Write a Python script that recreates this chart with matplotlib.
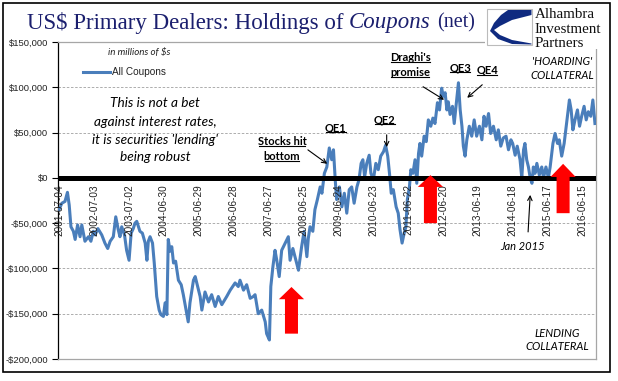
import matplotlib
matplotlib.use("Agg")
import matplotlib.pyplot as plt
import pandas as pd
from matplotlib.patches import Polygon, Rectangle
from matplotlib.lines import Line2D
from matplotlib.transforms import IdentityTransform

# ---------------- data ----------------
years = [
    2001.50, 2001.58, 2001.67, 2001.74, 2001.79, 2001.84, 2001.91, 2001.96, 2002.03, 2002.10,
    2002.15, 2002.24, 2002.34, 2002.41, 2002.48, 2002.53, 2002.61, 2002.72, 2002.81, 2002.89,
    2002.96, 2003.05, 2003.12, 2003.19, 2003.24, 2003.29, 2003.37, 2003.43, 2003.50, 2003.56,
    2003.62, 2003.67, 2003.72, 2003.81, 2003.88, 2003.96, 2004.01, 2004.05, 2004.10, 2004.17,
    2004.22, 2004.29, 2004.36, 2004.41, 2004.48, 2004.53, 2004.58, 2004.62, 2004.67, 2004.72,
    2004.77, 2004.83, 2004.91, 2004.99, 2005.05, 2005.15, 2005.19, 2005.24, 2005.34, 2005.39,
    2005.53, 2005.58, 2005.67, 2005.77, 2005.86, 2005.96, 2006.05, 2006.15, 2006.29, 2006.39,
    2006.53, 2006.62, 2006.67, 2006.77, 2006.86, 2006.96, 2007.05, 2007.10, 2007.19, 2007.29,
    2007.39, 2007.43, 2007.51, 2007.55, 2007.61, 2007.67, 2007.72, 2007.79, 2007.86, 2007.96,
    2008.05, 2008.10, 2008.18, 2008.24, 2008.34, 2008.43, 2008.50, 2008.58, 2008.62, 2008.67,
    2008.75, 2008.81, 2008.88, 2008.96, 2009.01, 2009.08, 2009.15, 2009.22, 2009.29, 2009.34,
    2009.39, 2009.43, 2009.51, 2009.58, 2009.65, 2009.72, 2009.79, 2009.86, 2009.93, 2010.01,
    2010.07, 2010.13, 2010.18, 2010.23, 2010.29, 2010.36, 2010.41, 2010.48, 2010.55, 2010.62,
    2010.69, 2010.77, 2010.83, 2010.89, 2010.94, 2010.99, 2011.05, 2011.13, 2011.19, 2011.24,
    2011.30, 2011.36, 2011.41, 2011.45, 2011.51, 2011.55, 2011.61, 2011.67, 2011.72, 2011.77,
    2011.81, 2011.86, 2011.93, 2011.99, 2012.05, 2012.12, 2012.18, 2012.24, 2012.31, 2012.37,
    2012.43, 2012.48, 2012.53, 2012.58, 2012.62, 2012.67, 2012.74, 2012.79, 2012.86, 2012.91,
    2012.96, 2013.01, 2013.05, 2013.10, 2013.15, 2013.22, 2013.29, 2013.36, 2013.43, 2013.51,
    2013.58, 2013.64, 2013.70, 2013.77, 2013.83, 2013.91, 2013.99, 2014.05, 2014.12, 2014.19,
    2014.27, 2014.34, 2014.41, 2014.46, 2014.53, 2014.59, 2014.67, 2014.72, 2014.77, 2014.81,
    2014.86, 2014.91, 2014.96, 2015.01, 2015.05, 2015.10, 2015.15, 2015.22, 2015.29, 2015.34,
    2015.41, 2015.48, 2015.53, 2015.61, 2015.67, 2015.74, 2015.79, 2015.86, 2015.93, 2016.01,
    2016.08, 2016.13, 2016.18, 2016.24, 2016.31, 2016.37, 2016.43, 2016.50, 2016.56, 2016.62,
    2016.69, 2016.75, 2016.81,
]
all_coupons = [
    -35000, -28000, -26000, -16000, -30000, -54000, -59000, -68000, -52000, -65000,
    -52000, -70000, -65000, -70000, -59000, -63000, -56000, -63000, -72000, -78000,
    -70000, -65000, -43000, -57000, -65000, -54000, -63000, -80000, -91000, -61000,
    -56000, -50000, -48000, -59000, -61000, -72000, -91000, -70000, -65000, -72000,
    -94000, -131000, -146000, -151000, -153000, -138000, -151000, -68000, -81000, -76000,
    -94000, -92000, -113000, -118000, -129000, -150000, -159000, -138000, -113000, -109000,
    -131000, -146000, -126000, -137000, -129000, -142000, -131000, -140000, -131000, -124000,
    -116000, -120000, -113000, -124000, -118000, -133000, -131000, -129000, -150000, -146000,
    -159000, -172000, -179000, -120000, -98000, -80000, -91000, -109000, -80000, -72000,
    -65000, -91000, -78000, -87000, -102000, -76000, -59000, -87000, -67000, -54000,
    -59000, -35000, -24000, -10000, -17000, 5000, 12000, 33000, 20000, 31000,
    -2000, -24000, -10000, -32000, -17000, -39000, -13000, -10000, -28000, -10000,
    -2000, 16000, 20000, 1000, 16000, 25000, 5000, -2000, 16000, 9000,
    24000, 29000, 36000, 24000, 5000, -17000, -13000, -32000, -39000, -57000,
    -72000, -61000, -54000, -24000, -10000, 9000, 5000, 20000, -6000, 27000,
    38000, 24000, 46000, 40000, 64000, 57000, 66000, 60000, 83000, 75000,
    99000, 90000, 94000, 75000, 84000, 70000, 79000, 60000, 86000, 105000,
    75000, 57000, 35000, 24000, 42000, 57000, 46000, 64000, 46000, 57000,
    42000, 68000, 57000, 71000, 49000, 57000, 42000, 53000, 35000, 44000,
    46000, 31000, 42000, 38000, 25000, 35000, 20000, 0, 31000, 38000,
    20000, 12000, 0, -6000, 12000, 5000, 16000, 3000, 12000, 0,
    12000, 0, 12000, 38000, 49000, 38000, 42000, 24000, 38000, 64000,
    86000, 75000, 53000, 64000, 75000, 57000, 68000, 79000, 64000, 73000,
    68000, 86000, 60000,
]
x_tick_labels = ['2001-07-04', '2002-07-03', '2003-07-02', '2004-06-30', '2005-06-29',
                 '2006-06-28', '2007-06-27', '2008-06-25', '2009-06-24', '2010-06-23',
                 '2011-06-22', '2012-06-20', '2013-06-19', '2014-06-18', '2015-06-17',
                 '2016-06-15']
y_ticks = [-200000, -150000, -100000, -50000, 0, 50000, 100000, 150000]


def dec_year(s):
    ts = pd.Timestamp(s)
    start = pd.Timestamp(year=ts.year, month=1, day=1)
    return ts.year + (ts - start).days / 365.25


def money(v):
    return ("-$" if v < 0 else "$") + f"{abs(v):,.0f}"


W, H = 618, 381
NARROW = ['Liberation Sans', 'DejaVu Sans']
CAL = ['Lato', 'DejaVu Sans']
SERIF = ['Liberation Serif', 'DejaVu Serif']

fig = plt.figure(figsize=(W / 100, H / 100), dpi=100)
fig.patch.set_facecolor('white')


def fx(x):
    return x / W


def fy(y):
    return 1 - y / H


ax = fig.add_axes([fx(58), fy(359), (596 - 58) / W, (359 - 42) / H])
ax.set_xlim(2001.47, 2016.84)
ax.set_ylim(-200000, 150000)

# grid
for v in y_ticks:
    if v not in (0, -200000, 150000):
        ax.axhline(v, color='#a0a0a0', lw=0.6, ls=(0, (3, 2)), zorder=1)

ax.plot(years, all_coupons, color='#4A7EBB', lw=2.2, zorder=3, solid_joinstyle='round')
ax.axhline(0, color='black', lw=3.6, zorder=4)

# spines
for s in ['top', 'right', 'bottom']:
    ax.spines[s].set_color('#a6a6a6')
    ax.spines[s].set_linewidth(0.9)
ax.spines['left'].set_color('black')
ax.spines['left'].set_linewidth(0.9)

ax.set_yticks(y_ticks)
ax.set_yticklabels([money(v) for v in y_ticks], family=NARROW, fontsize=6.8, color='#222222')
ax.tick_params(axis='y', length=4, width=0.8, direction='out', pad=3)
ax.set_xticks([])

for lab in x_tick_labels:
    ax.annotate(lab, (dec_year(lab), 0), xytext=(0, -4.5), textcoords='offset points',
                rotation=90, ha='center', va='top', family=NARROW, fontsize=7.2,
                color='#222222', zorder=5)

# legend
ax.plot([2002.19, 2002.96], [117000, 117000], color='#4A7EBB', lw=2.2, zorder=3)
ax.text(2003.01, 117000, 'All Coupons', family=['Liberation Sans', 'DejaVu Sans'],
        fontsize=7.2, va='center', ha='left', color='#222222')
ax.text(2003.79, 138500, 'in millions of $s', family=CAL, style='italic', fontsize=7,
        ha='center', va='center', color='#222222')

# main note
note = ["This is not a bet", "against interest rates,", "it is securities 'lending'", "being robust"]
for line, yv in zip(note, [82900, 61900, 42000, 23200]):
    ax.text(2004.24, yv, line, family=CAL, style='italic', fontsize=9.8, ha='center',
            va='center', color='black')

underlined = []


def bold_label(x, y, s):
    t = ax.text(x, y, s, family=CAL, weight='bold', fontsize=8, ha='center', va='center',
                color='black', zorder=6)
    underlined.append(t)
    return t


bold_label(2007.87, 39800, 'Stocks hit')
bold_label(2007.87, 23200, 'bottom')
bold_label(2009.41, 55300, 'QE1')
bold_label(2010.81, 64000, 'QE2')
bold_label(2011.53, 132600, "Draghi's")
bold_label(2011.53, 116000, 'promise')
bold_label(2012.96, 121600, 'QE3')
bold_label(2013.73, 118600, 'QE4')


def arrow(x0, y0, x1, y1):
    ax.annotate('', xy=(x1, y1), xytext=(x0, y0),
                arrowprops=dict(arrowstyle='->', color='black', lw=0.8,
                                shrinkA=0, shrinkB=0, mutation_scale=8), zorder=6)


arrow(2008.61, 30900, 2009.16, 15500)
arrow(2010.86, 47500, 2010.86, 34000)
arrow(2011.90, 100600, 2012.50, 86200)
arrow(2013.59, 102800, 2013.16, 88400)
arrow(2014.90, -59700, 2014.96, -18800)

for s, yv in [("'HOARDING'", 128200), ('COLLATERAL', 112700)]:
    ax.text(2015.87, yv, s, family=CAL, style='italic', fontsize=8, ha='center', va='center')
for s, yv in [('LENDING', -171300), ('COLLATERAL', -186700)]:
    ax.text(2015.73, yv, s, family=CAL, style='italic', fontsize=8, ha='center', va='center')
ax.text(2014.73, -76200, 'Jan 2015', family=CAL, style='italic', fontsize=8, ha='center',
        va='center')

# red block arrows (cx, top, head base, bottom)
red_arrows = [(2008.14, -120500, -134000, -172000),
              (2012.11, 3000, -10000, -50000),
              (2015.90, 15500, 1000, -39000)]
hw, hh = 0.186, 0.36
for cx, top, hb, bot in red_arrows:
    pts = [(cx - hw, bot), (cx - hw, hb), (cx - hh, hb), (cx, top), (cx + hh, hb),
           (cx + hw, hb), (cx + hw, bot)]
    ax.add_patch(Polygon(pts, closed=True, facecolor='#FF0000', edgecolor='none', zorder=7))

# white area behind logo (hides top spine there)
fig.add_artist(Rectangle((fx(485), fy(49)), (608 - 485) / W, 44 / H, transform=fig.transFigure,
                         facecolor='white', edgecolor='none', zorder=10))
# logo box
fig.add_artist(Rectangle((fx(487), fy(45)), 45 / W, 36 / H, transform=fig.transFigure,
                         facecolor='white', edgecolor='#bbbbbb', lw=0.8, zorder=11))
logo_pts = [(508, 10), (531.5, 10), (531.5, 15), (512, 20), (500, 26), (494, 30), (500, 35),
            (512, 40), (531.5, 43.5), (531.5, 44.5), (512, 44), (498, 39), (490, 31),
            (494, 23), (501, 15)]
fig.add_artist(Polygon([(fx(a), fy(b)) for a, b in logo_pts], closed=True,
                       transform=fig.transFigure, facecolor='#0f2a80', edgecolor='none',
                       zorder=12))
for s, yy in [('Alhambra', 15), ('Investment', 29.5), ('Partners', 43.5)]:
    fig.text(fx(535), fy(yy), s, family=SERIF, fontsize=10.8, ha='left', va='center',
             color='#111111', zorder=12)

# outer border
fig.add_artist(Rectangle((fx(3), fy(372)), 607 / W, 369 / H, transform=fig.transFigure,
                         fill=False, edgecolor='black', lw=1.2, zorder=20))

# title pieces
fig.canvas.draw()
renderer = fig.canvas.get_renderer()
navy = '#1b1f6e'
pieces = [("US$ Primary Dealers: Holdings of", 'normal', 16.5, 5),
          ("Coupons", 'italic', 16.5, 7),
          ("(net)", 'normal', 14.5, 0)]
xcur = 27
for s, st, fs, gap in pieces:
    t = fig.text(fx(xcur), fy(20), s, family=SERIF, style=st, fontsize=fs, color=navy,
                 ha='left', va='center_baseline')
    bb = t.get_window_extent(renderer)
    xcur = bb.x1 + gap

# underline bold labels
for t in underlined:
    bb = t.get_window_extent(renderer)
    yline = bb.y0 + 1.0
    fig.add_artist(Line2D([bb.x0 + 1, bb.x1 - 1], [yline, yline], transform=IdentityTransform(),
                          color='black', lw=0.8, zorder=8))

fig.savefig('out.png', dpi=100)
